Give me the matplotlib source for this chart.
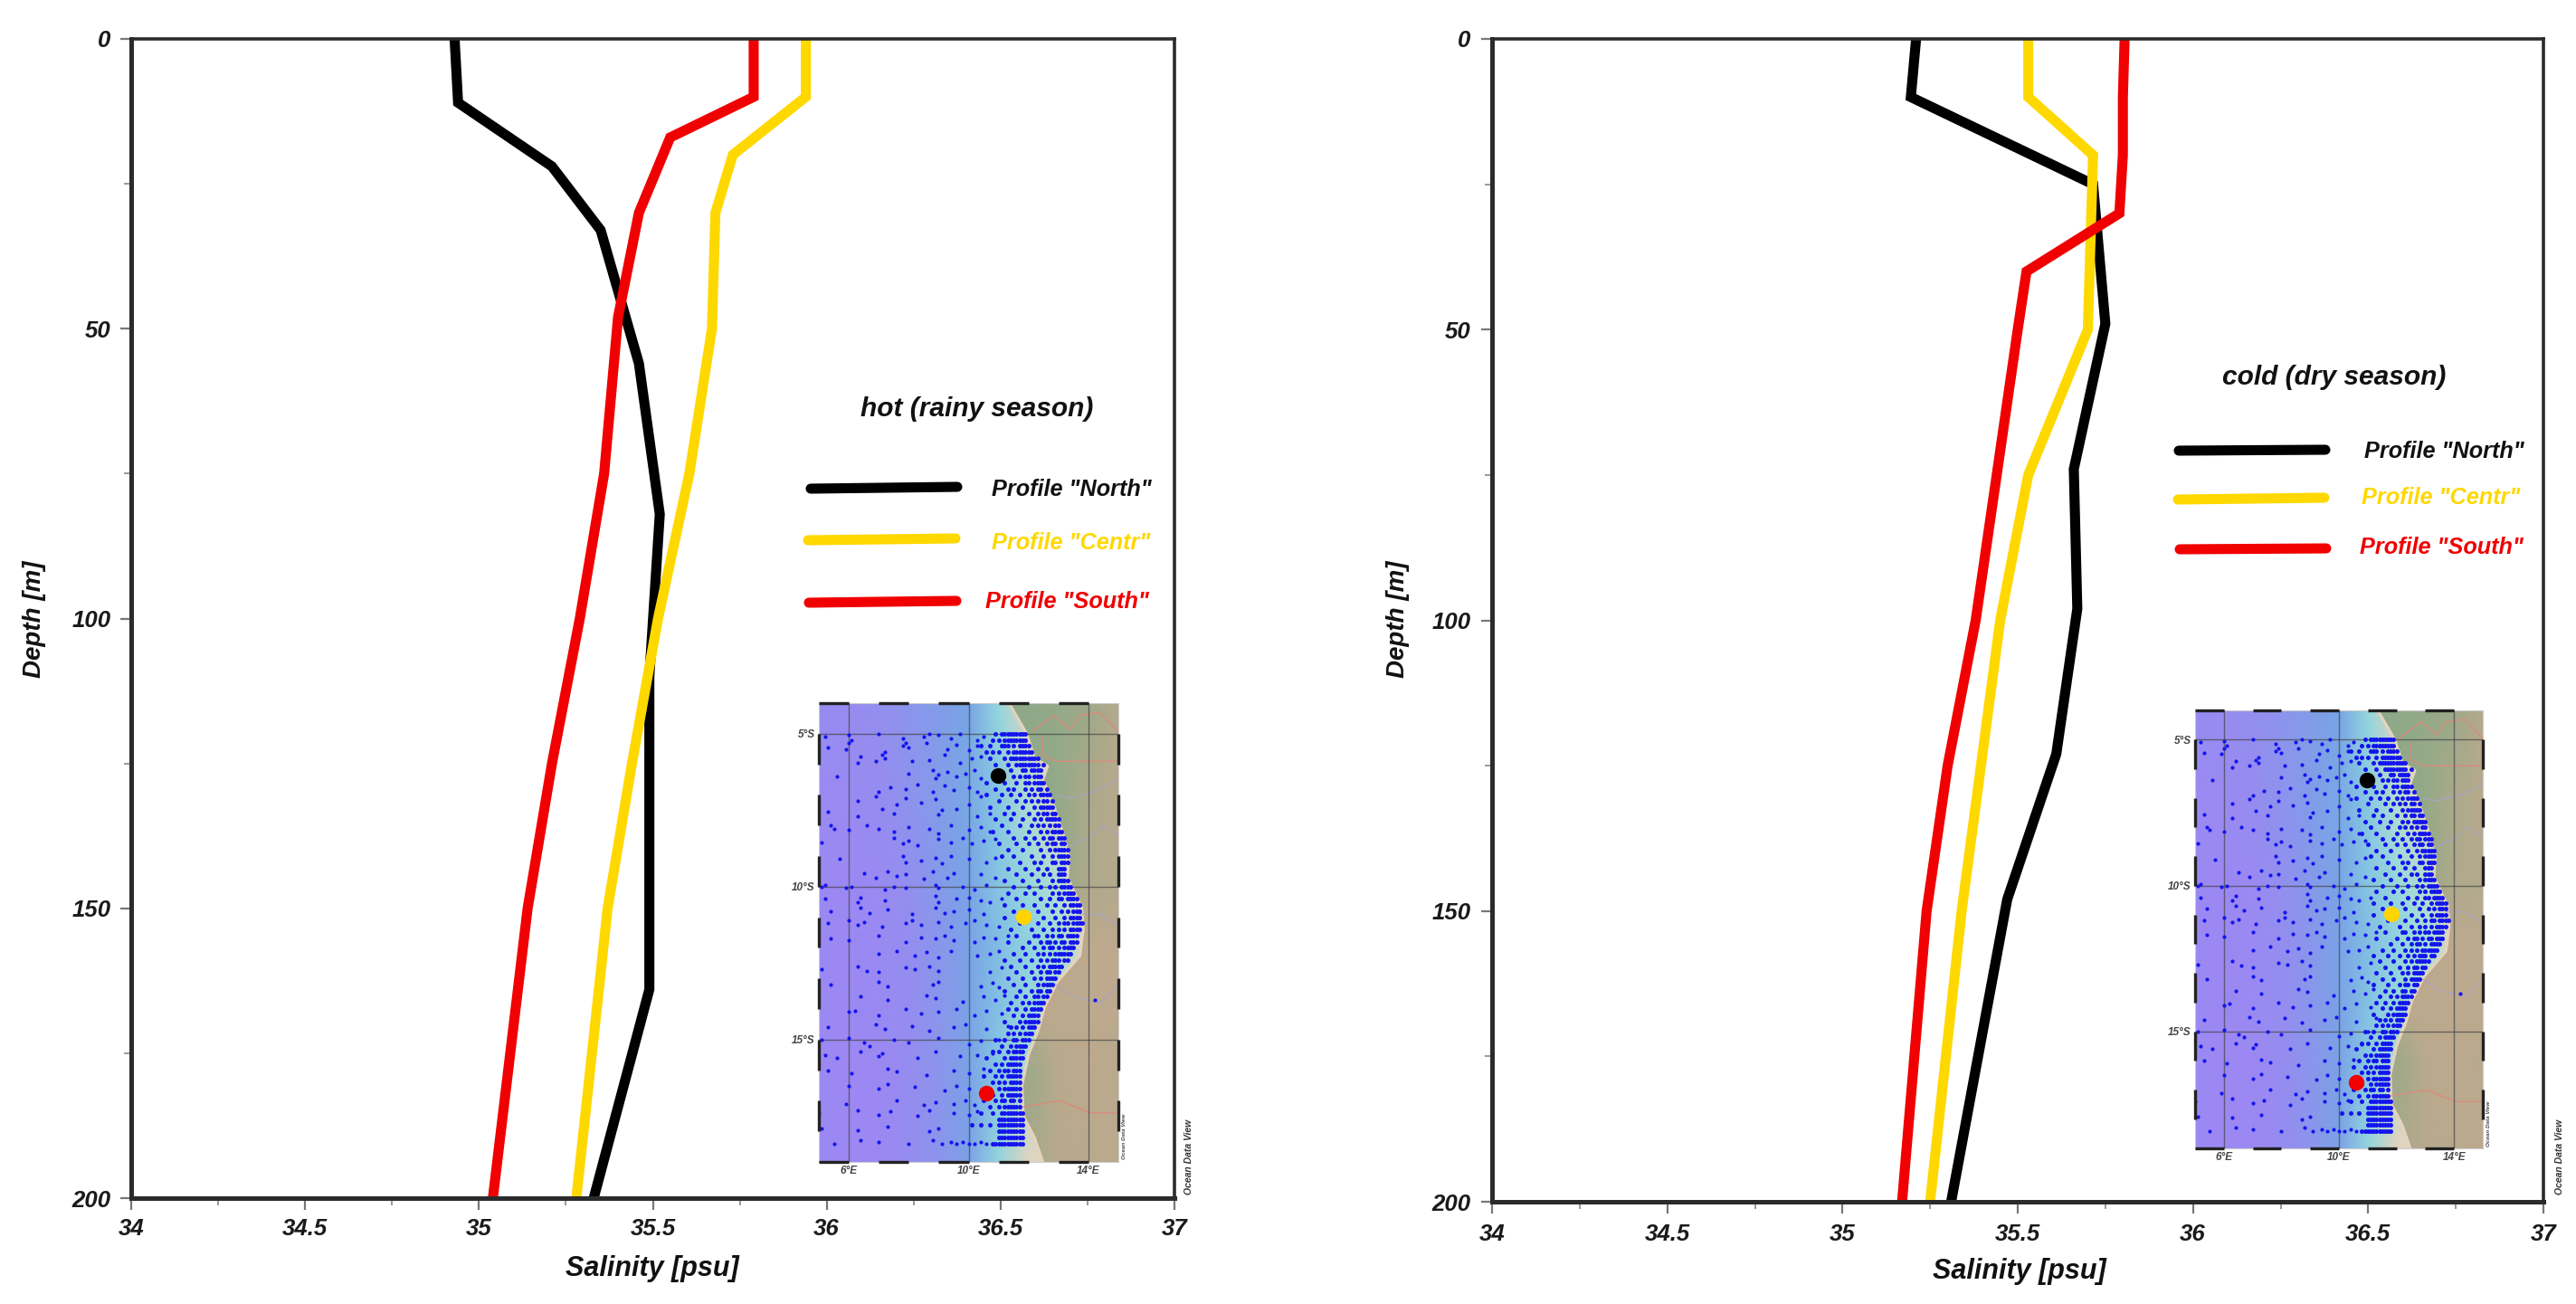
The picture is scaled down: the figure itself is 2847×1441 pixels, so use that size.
import numpy as np
import matplotlib
matplotlib.use("Agg")
import matplotlib.pyplot as plt
from matplotlib.colors import LinearSegmentedColormap
from matplotlib.lines import Line2D
from matplotlib.patches import Polygon

plt.rcParams['font.family'] = ['Liberation Sans', 'DejaVu Sans']
plt.rcParams['font.weight'] = 'bold'
plt.rcParams['font.style'] = 'italic'

W, H = 2847, 1441

# salinity profiles, hot season
hot_north_s = [34.93, 34.94, 35.21, 35.35, 35.46, 35.52, 35.49, 35.49, 35.33]
hot_north_d = [0, 11, 22, 33, 56, 82, 110, 164, 200]
hot_centr_s = [35.94, 35.94, 35.73, 35.68, 35.67, 35.605, 35.515, 35.44, 35.37, 35.28]
hot_centr_d = [0, 10, 20, 30, 50, 75, 100, 125, 150, 200]
hot_south_s = [35.79, 35.79, 35.55, 35.46, 35.40, 35.36, 35.29, 35.21, 35.14, 35.04]
hot_south_d = [0, 10, 17, 30, 48, 75, 100, 125, 150, 200]

# salinity profiles, cold season
cold_north_s = [35.21, 35.195, 35.715, 35.75, 35.66, 35.67, 35.61, 35.47, 35.31]
cold_north_d = [0, 10, 25, 49, 74, 98, 123, 148, 200]
cold_centr_s = [35.53, 35.53, 35.715, 35.70, 35.53, 35.45, 35.34, 35.25]
cold_centr_d = [0, 10, 20, 50, 75, 100, 150, 200]
cold_south_s = [35.805, 35.80, 35.80, 35.79, 35.525, 35.50, 35.38, 35.30, 35.24, 35.17]
cold_south_d = [0, 10, 20, 30, 40, 50, 100, 125, 150, 200]

sal_ticks = [34, 34.5, 35, 35.5, 36, 36.5, 37]
sal_labels = ['34', '34.5', '35', '35.5', '36', '36.5', '37']
depth_ticks = [0, 50, 100, 150, 200]

# map: coast, borders, rivers
coast_lon = [11.35, 11.94, 12.2, 12.64, 12.48, 12.86, 13.13, 13.35, 13.3, 13.78, 13.83, 13.72,
             12.97, 12.53, 12.32, 12.0, 11.78, 11.83, 12.2, 12.48]
coast_lat = [-4, -5, -5.8, -6.06, -6.5, -7.4, -8.2, -9, -9.7, -10.7, -11.4, -12.25,
             -13.1, -13.95, -14.7, -15.5, -16.5, -17.5, -18.2, -19]
border1_lon = [12.1, 12.86, 13.4, 13.7, 14.37, 15]
border1_lat = [-4.95, -4.4, -4.85, -4.4, -4.3, -4.95]
border2_lon = [12.48, 12.48, 12.9, 15]
border2_lat = [-5.1, -5.7, -5.9, -5.9]
border3_lon = [11.83, 13.07, 14.05, 15]
border3_lat = [-17.2, -17, -17.4, -17.4]
river1_lon = [12.9, 13.4, 14.2, 15]
river1_lat = [-7.0, -7.1, -6.9, -6.5]
river2_lon = [13.3, 14.0, 14.5, 15]
river2_lat = [-8.7, -8.4, -8.0, -8.3]
river3_lon = [13.7, 14.4, 15]
river3_lat = [-10.9, -10.9, -11.3]
river4_lon = [12.9, 13.5, 14.4, 15]
river4_lat = [-13.2, -13.6, -13.8, -13.2]

# sea and land shades on a coarse lon/lat grid (0 purple .. 1 pale shelf, 0 green .. 1 tan)
grid_lon = [5, 6, 7, 8, 9, 10, 11, 12, 13, 14, 15]
grid_lat = [-4, -7, -10, -12, -14, -16, -19]
sea_shade = [[.08, .06, .12, .20, .30, .40, .72, 1.0, 1.0, 1.0, 1.0],
             [.04, .04, .08, .18, .30, .42, .60, .85, 1.0, 1.0, 1.0],
             [.02, .02, .04, .12, .26, .40, .58, .72, .85, 1.0, 1.0],
             [.02, .02, .04, .10, .22, .38, .54, .68, .80, 1.0, 1.0],
             [.02, .02, .04, .10, .22, .38, .56, .72, .90, 1.0, 1.0],
             [.02, .02, .02, .08, .20, .38, .60, .85, 1.0, 1.0, 1.0],
             [.02, .02, .02, .08, .20, .36, .70, 1.0, 1.0, 1.0, 1.0]]
land_shade = [[0, 0, 0, 0, 0, 0, 0, 0, .1, .3, .8],
              [0, 0, 0, 0, 0, 0, 0, 0, .1, .6, .9],
              [0, 0, 0, 0, 0, 0, 0, 0, .1, .7, .8],
              [1, 1, 1, 1, 1, 1, 1, 1, .9, 1, 1],
              [1, 1, 1, 1, 1, 1, 1, 1, 1, 1, 1],
              [1, 1, 1, 1, 1, 1, 1, .3, .9, 1, .9],
              [1, 1, 1, 1, 1, 1, 1, .5, .9, .9, 1]]

lon_ticks = [6, 10, 14]
lat_ticks = [-5, -10, -15]

# open ocean stations
open_lon = [5.2, 6.0, 6.1, 7.0, 7.8, 7.9, 8.5, 8.7, 9.0, 9.4, 9.7, 10.3, 10.5,
            5.3, 5.9, 6.0, 7.2, 7.8, 8.0, 8.6, 9.3, 9.6, 10.0, 10.3,
            6.3, 6.4, 6.9, 7.1, 7.2, 8.1, 8.7, 9.2, 9.7, 10.1, 10.4,
            5.6, 8.0, 8.8, 8.9, 9.0, 9.3, 9.6, 9.9, 10.2, 10.4,
            7.0, 7.4, 7.9, 8.3, 8.8, 9.2, 9.5, 10.0, 10.3,
            6.3, 6.9, 7.6, 7.9, 8.4, 8.9, 10.0, 10.4,
            5.3, 6.3, 7.1, 7.5, 9.0, 9.1, 9.6, 10.3, 10.7,
            5.4, 5.5, 6.0, 6.6, 7.0, 7.5, 8.0, 8.7, 9.0, 9.4, 10.0, 10.4, 10.7,
            5.1, 7.5, 7.8, 8.0, 8.3, 9.0, 9.4, 9.8, 10.1, 10.5, 10.9,
            5.7, 7.8, 7.9, 8.4, 8.9, 9.1, 9.4, 10.0, 10.6, 10.9,
            6.5, 6.9, 7.3, 7.6, 7.9, 8.5, 8.8, 9.3, 9.5, 10.4, 10.9,
            5.1, 5.2, 5.9, 6.1, 7.2, 7.5, 7.9, 8.9, 9.0, 9.8, 10.2, 10.6,
            5.2, 6.3, 6.4, 7.2, 8.9, 9.0, 9.6, 10.0, 10.4, 10.7, 11.1,
            5.4, 6.4, 6.7, 7.3, 8.1, 8.9, 9.2, 9.5, 10.0, 10.5,
            5.3, 6.0, 6.3, 6.5, 7.1, 7.9, 8.1, 8.4, 9.0, 9.4, 9.9, 10.2, 10.6, 11.0,
            5.4, 6.0, 7.0, 7.9, 8.4, 8.9, 9.2, 9.5, 10.2, 10.5, 10.9, 11.3,
            7.0, 7.6, 8.2, 8.6, 9.0, 9.4, 10.3, 10.7, 11.0,
            5.1, 6.3, 6.6, 7.0, 7.9, 8.2, 8.7, 9.0, 10.7, 11.1,
            5.4, 7.0, 7.3, 8.8, 9.0, 10.4, 10.8, 11.0,
            6.4, 7.3, 8.6, 8.9, 9.8, 10.5, 10.9, 11.2,
            6.0, 6.2, 7.0, 7.9, 8.4, 9.0, 9.6, 10.2, 10.6, 11.1,
            5.3, 6.9, 7.2, 8.1, 8.7, 9.5, 9.9, 10.6, 11.3,
            5.1, 6.0, 6.5, 6.7, 7.5, 8.0, 9.0, 10.0, 10.4, 11.0,
            5.2, 5.6, 6.4, 7.0, 7.1, 8.3, 8.9, 9.7, 10.3, 10.8,
            5.3, 6.1, 7.3, 7.6, 8.6, 9.5, 10.0, 10.5,
            6.0, 7.0, 7.3, 8.2, 9.2, 9.6, 10.0,
            5.9, 7.6, 8.5, 8.9, 9.5, 9.9, 10.2,
            5.0, 6.3, 7.0, 7.4, 8.3, 8.7, 9.5, 10.0, 10.3,
            5.1, 6.3, 7.3, 8.7, 9.0,
            5.5, 6.4, 7.0, 8.0, 8.8, 9.1, 9.4, 9.6, 9.8, 10.0, 10.2, 10.4, 10.6, 14.2]
open_lat = [-5.1, -5.05, -5.2, -5.0, -5.15, -5.3, -5.1, -5.0, -5.05, -5.15, -5.0, -5.2, -5.1,
            -5.45, -5.5, -5.3, -5.6, -5.4, -5.45, -5.3, -5.5, -5.35, -5.55, -5.4,
            -5.95, -5.75, -5.9, -5.7, -5.8, -5.9, -5.85, -5.7, -5.95, -5.8, -5.75,
            -6.4, -6.3, -6.2, -6.45, -6.35, -6.25, -6.4, -6.3, -6.2, -6.45,
            -6.9, -6.75, -6.8, -6.65, -6.9, -6.7, -6.85, -6.75, -6.9,
            -7.2, -7.05, -7.3, -7.1, -7.25, -7.15, -7.3, -7.05,
            -7.55, -7.7, -7.45, -7.6, -7.65, -7.5, -7.45, -7.7, -7.6,
            -8.0, -8.1, -8.15, -8.0, -8.1, -8.2, -8.05, -8.1, -8.25, -8.0, -8.15, -8.05, -8.2,
            -8.55, -8.4, -8.6, -8.5, -8.65, -8.45, -8.55, -8.4, -8.6, -8.5, -8.45,
            -9.1, -9.0, -9.2, -9.15, -9.05, -9.25, -9.0, -9.1, -9.2, -9.05,
            -9.55, -9.7, -9.5, -9.65, -9.6, -9.75, -9.5, -9.7, -9.55, -9.6, -9.7,
            -10.0, -9.95, -10.05, -10.0, -10.1, -10.0, -10.05, -9.95, -10.05, -10.0, -10.1, -9.95,
            -10.4, -10.5, -10.35, -10.45, -10.3, -10.5, -10.4, -10.35, -10.45, -10.5, -10.4,
            -10.8, -10.7, -10.85, -10.75, -10.9, -10.7, -10.85, -10.8, -10.75, -10.9,
            -11.2, -11.1, -11.25, -11.15, -11.3, -11.2, -11.1, -11.25, -11.15, -11.3, -11.2, -11.1, -11.25, -11.3,
            -11.7, -11.75, -11.6, -11.8, -11.65, -11.7, -11.6, -11.75, -11.8, -11.65, -11.7, -11.6,
            -12.2, -12.1, -12.25, -12.15, -12.3, -12.1, -12.25, -12.2, -12.1,
            -12.7, -12.6, -12.75, -12.8, -12.65, -12.7, -12.6, -12.75, -12.8, -12.65,
            -13.2, -13.1, -13.25, -13.2, -13.1, -13.25, -13.15, -13.3,
            -13.6, -13.7, -13.55, -13.65, -13.75, -13.6, -13.7, -13.55,
            -14.1, -14.05, -14.2, -14.0, -14.15, -14.1, -14.0, -14.2, -14.05, -14.15,
            -14.6, -14.5, -14.65, -14.55, -14.7, -14.6, -14.5, -14.65, -14.55,
            -15.0, -14.95, -15.1, -15.2, -15.0, -15.1, -14.95, -15.15, -15.05, -15.0,
            -15.5, -15.6, -15.4, -15.55, -15.45, -15.6, -15.4, -15.55, -15.5, -15.45,
            -16.0, -16.1, -15.95, -16.05, -16.15, -16.0, -16.1, -15.95,
            -16.5, -16.6, -16.45, -16.55, -16.65, -16.5, -16.6,
            -17.1, -17.0, -17.15, -17.05, -17.1, -17.0, -17.15,
            -17.4, -17.3, -17.45, -17.35, -17.5, -17.3, -17.4, -17.45, -17.35,
            -17.9, -17.95, -17.85, -18.0, -17.9,
            -18.4, -18.3, -18.35, -18.4, -18.3, -18.4, -18.35, -18.4, -18.35, -18.4, -18.4, -18.35, -18.4, -13.7]

# dense shelf stations, one row of longitudes per latitude
shelf_lat = [-5.0, -5.2, -5.4, -5.6, -5.8, -6.0, -6.2, -6.4, -6.6, -6.8, -7.0, -7.2, -7.4, -7.6, -7.8,
             -8.0, -8.2, -8.4, -8.6, -8.8, -9.0, -9.2, -9.4, -9.6, -9.8, -10.0, -10.2, -10.4, -10.6,
             -10.8, -11.0, -11.2, -11.4, -11.6, -11.8, -12.0, -12.2, -12.4, -12.6, -12.8, -13.0,
             -13.2, -13.4, -13.6, -13.8, -14.0, -14.2, -14.4, -14.6, -14.8, -15.0, -15.2, -15.4,
             -15.6, -15.8, -16.0, -16.2, -16.4, -16.6, -16.8, -17.0, -17.2, -17.4, -17.6, -17.8,
             -18.0, -18.2, -18.4]
shelf_lons = [[10.9, 11.1, 11.2, 11.3, 11.4, 11.5, 11.6, 11.7, 11.8, 11.9],
              [10.8, 11.0, 11.2, 11.3, 11.4, 11.5, 11.6, 11.7, 11.8, 11.9],
              [10.4, 10.7, 11.1, 11.2, 11.3, 11.5, 11.7, 11.8, 11.9, 12.0],
              [10.6, 10.8, 11.0, 11.3, 11.5, 11.6, 11.7, 11.8, 11.9, 12.0, 12.1],
              [10.7, 11.2, 11.4, 11.5, 11.6, 11.7, 11.8, 11.9, 12.0, 12.1, 12.2, 12.3],
              [10.9, 11.3, 11.6, 11.7, 11.8, 11.9, 12.0, 12.1, 12.2, 12.3, 12.5],
              [11.4, 11.8, 11.9, 12.1, 12.2, 12.3, 12.4],
              [11.5, 11.7, 11.9, 12.0, 12.2, 12.3, 12.4],
              [10.6, 11.2, 11.6, 11.9, 12.0, 12.2, 12.3, 12.4, 12.5],
              [10.9, 11.3, 11.5, 11.9, 12.1, 12.3, 12.4, 12.6],
              [10.6, 11.1, 11.4, 11.7, 12.0, 12.2, 12.4, 12.5, 12.6, 12.7],
              [11.0, 11.6, 11.9, 12.1, 12.3, 12.5, 12.6, 12.8],
              [10.7, 11.3, 11.8, 12.2, 12.4, 12.5, 12.6, 12.7, 12.8],
              [11.2, 11.5, 12.0, 12.3, 12.5, 12.6, 12.8, 12.9],
              [10.9, 11.4, 11.8, 12.2, 12.4, 12.6, 12.7, 12.8, 12.9, 13.0],
              [11.1, 11.7, 12.1, 12.3, 12.5, 12.7, 12.9, 13.0],
              [10.8, 11.3, 12.0, 12.4, 12.6, 12.8, 12.9, 13.0, 13.1],
              [11.5, 11.9, 12.2, 12.5, 12.7, 12.8, 13.0, 13.1, 13.2],
              [11.0, 11.6, 12.0, 12.3, 12.6, 12.8, 12.9, 13.1, 13.2],
              [11.3, 11.8, 12.4, 12.7, 12.9, 13.0, 13.1, 13.2, 13.3],
              [11.1, 11.5, 12.1, 12.5, 12.8, 13.0, 13.1, 13.2, 13.3],
              [11.7, 12.2, 12.4, 12.8, 12.9, 13.1, 13.2, 13.3],
              [11.3, 11.9, 12.3, 12.6, 13.0, 13.1, 13.2],
              [11.6, 12.1, 12.5, 12.7, 13.0, 13.1, 13.2],
              [11.2, 11.8, 12.3, 12.8, 13.0, 13.1, 13.2, 13.3],
              [11.5, 12.0, 12.4, 12.7, 12.9, 13.1, 13.2, 13.3, 13.4],
              [11.3, 11.9, 12.2, 12.8, 13.0, 13.2, 13.3, 13.4, 13.5],
              [11.6, 12.4, 12.7, 13.0, 13.1, 13.3, 13.4, 13.5, 13.6],
              [11.2, 11.8, 12.2, 12.6, 12.9, 13.2, 13.4, 13.5, 13.6, 13.7],
              [11.5, 12.3, 12.8, 13.1, 13.3, 13.5, 13.6, 13.7],
              [11.2, 12.0, 12.5, 12.9, 13.2, 13.4, 13.5, 13.6, 13.7],
              [11.7, 12.3, 12.7, 13.0, 13.2, 13.3, 13.5, 13.6, 13.7, 13.8],
              [11.4, 12.1, 12.5, 12.8, 13.0, 13.2, 13.4, 13.5, 13.6, 13.7],
              [11.6, 12.2, 12.3, 12.6, 12.8, 13.0, 13.1, 13.3, 13.4, 13.5, 13.6],
              [11.3, 12.0, 12.4, 12.6, 12.7, 12.9, 13.1, 13.2, 13.4, 13.5, 13.6],
              [11.8, 12.2, 12.5, 12.7, 12.8, 13.0, 13.2, 13.3, 13.4, 13.5],
              [11.5, 11.9, 12.3, 12.5, 12.7, 12.9, 13.0, 13.1, 13.2, 13.3, 13.4],
              [11.2, 11.7, 12.1, 12.4, 12.6, 12.8, 12.9, 13.0, 13.2, 13.3],
              [11.4, 11.9, 12.3, 12.5, 12.7, 12.8, 12.9, 13.0, 13.1],
              [11.6, 12.1, 12.4, 12.6, 12.7, 12.9, 13.0],
              [11.3, 11.8, 12.2, 12.4, 12.6, 12.7, 12.8, 12.9],
              [11.5, 11.9, 12.3, 12.5, 12.6, 12.7, 12.8],
              [11.2, 11.7, 12.1, 12.3, 12.4, 12.6, 12.7],
              [11.6, 11.9, 12.2, 12.3, 12.5, 12.6],
              [11.4, 11.8, 12.0, 12.2, 12.3, 12.4, 12.5],
              [11.3, 11.6, 11.9, 12.1, 12.2, 12.3, 12.4],
              [11.5, 11.8, 12.0, 12.1, 12.2, 12.3],
              [11.2, 11.7, 11.9, 12.0, 12.1, 12.2, 12.3],
              [11.4, 11.6, 11.8, 12.0, 12.1, 12.2],
              [11.3, 11.5, 11.7, 11.9, 12.0, 12.1],
              [10.9, 11.2, 11.5, 11.6, 11.8, 11.9, 12.0],
              [11.1, 11.4, 11.6, 11.7, 11.8, 11.9],
              [10.8, 11.0, 11.3, 11.5, 11.6, 11.7, 11.8],
              [10.6, 11.2, 11.4, 11.5, 11.6, 11.7, 11.8],
              [10.9, 11.1, 11.3, 11.4, 11.5, 11.6, 11.7],
              [10.7, 11.0, 11.2, 11.3, 11.5, 11.6, 11.7],
              [10.5, 10.9, 11.1, 11.3, 11.4, 11.5, 11.6, 11.7],
              [10.8, 11.0, 11.2, 11.4, 11.5, 11.6, 11.7],
              [11.0, 11.2, 11.3, 11.4, 11.5, 11.6, 11.7],
              [10.8, 11.1, 11.3, 11.4, 11.5, 11.6, 11.7],
              [10.5, 10.9, 11.1, 11.2, 11.4, 11.5, 11.7],
              [10.7, 11.0, 11.2, 11.3, 11.4, 11.5, 11.6, 11.7],
              [10.4, 10.8, 11.1, 11.2, 11.3, 11.4, 11.5, 11.6, 11.7, 11.8],
              [11.0, 11.1, 11.2, 11.3, 11.4, 11.5, 11.6, 11.7, 11.8],
              [10.1, 10.4, 10.7, 11.0, 11.1, 11.2, 11.3, 11.4, 11.5, 11.6, 11.7, 11.8],
              [11.0, 11.1, 11.2, 11.3, 11.4, 11.5, 11.6, 11.7, 11.8],
              [11.0, 11.1, 11.2, 11.3, 11.4, 11.5, 11.6, 11.7, 11.8],
              [10.8, 10.9, 11.0, 11.1, 11.2, 11.3, 11.4, 11.5, 11.6, 11.7, 11.8]]

# the three profile sites
site_lon = [10.97, 11.82, 10.6]
site_lat = [-6.38, -10.98, -16.75]
site_col = ['black', '#ffd400', '#f00000']

BLACK, YELLOW, RED = 'black', '#ffd800', '#f00000'

sea_cmap = LinearSegmentedColormap.from_list('sea', ['#9d87f3', '#8c94ec', '#78a4e6', '#86c8e2', '#9fe0d8', '#e0d4c0'])
land_cmap = LinearSegmentedColormap.from_list('land', ['#8fa988', '#bda98d'])


def px_axes(fig, left, right, top, bottom):
    return fig.add_axes([left / W, 1 - bottom / H, (right - left) / W, (bottom - top) / H])


def draw_profile(ax, profiles, pad):
    for s, d, col in profiles:
        ax.plot(s, d, color=col, lw=8, solid_joinstyle='miter', solid_capstyle='butt')
    ax.set_xlim(34, 37)
    ax.set_ylim(200, 0)
    ax.set_xticks(sal_ticks)
    ax.set_xticklabels(sal_labels)
    ax.set_yticks(depth_ticks)
    ax.set_xticks([34.25, 34.75, 35.25, 35.75, 36.25, 36.75], minor=True)
    ax.set_yticks([25, 75, 125, 175], minor=True)
    ax.tick_params(which='major', length=9, width=1.6, color='#777777', labelsize=18.5, pad=pad, labelcolor='#1a1a1a')
    ax.tick_params(which='minor', length=6, width=1.4, color='#999999')
    for side in ['left', 'bottom']:
        ax.spines[side].set_linewidth(3.6)
    for side in ['top', 'right']:
        ax.spines[side].set_linewidth(2.6)
    for sp in ax.spines.values():
        sp.set_color('#2b2b2b')
        sp.set_zorder(5)


def draw_map(fig, left, right, top, bottom):
    m = px_axes(fig, left, right, top, bottom)
    extent = [grid_lon[0], grid_lon[-1], grid_lat[-1], grid_lat[0]]
    # grid latitudes are not evenly spaced, so use pcolormesh for the shading
    m.pcolormesh(grid_lon, grid_lat, sea_shade, cmap=sea_cmap, vmin=0, vmax=1, shading='gouraud', zorder=1)
    outline = list(zip(coast_lon, coast_lat)) + [(15, -19), (15, -4)]
    land = Polygon(outline, closed=True, facecolor='none', edgecolor='none')
    m.add_patch(land)
    lm = m.pcolormesh(grid_lon, grid_lat, land_shade, cmap=land_cmap, vmin=0, vmax=1, shading='gouraud', zorder=2)
    lm.set_clip_path(land)
    m.plot(coast_lon, coast_lat, color='#e6d3bd', lw=2.2, zorder=2.5)
    for blon, blat in [(river1_lon, river1_lat), (river2_lon, river2_lat), (river3_lon, river3_lat), (river4_lon, river4_lat)]:
        m.plot(blon, blat, color='#a9a3c4', lw=0.8, zorder=3)
    for blon, blat in [(border1_lon, border1_lat), (border2_lon, border2_lat), (border3_lon, border3_lat)]:
        m.plot(blon, blat, color='#d98c7c', lw=1, zorder=3)
    for lon in lon_ticks:
        m.axvline(lon, color='#444444', lw=1, alpha=0.7, zorder=3)
    for lat in lat_ticks:
        m.axhline(lat, color='#444444', lw=1, alpha=0.7, zorder=3)
    m.plot(open_lon, open_lat, ls='none', marker='o', ms=3, mew=0, color='#1414ee', zorder=4)
    for lat, lons in zip(shelf_lat, shelf_lons):
        m.plot(lons, [lat] * len(lons), ls='none', marker='o', ms=3.6, mew=0, color='#1414ee', zorder=4)
    for lon, lat, col in zip(site_lon, site_lat, site_col):
        m.plot(lon, lat, ls='none', marker='o', ms=12.5, mew=0, color=col, zorder=6)
    m.set_xlim(extent[0], extent[1])
    m.set_ylim(extent[2], extent[3])
    # zebra frame
    for lon in range(5, 15, 2):
        m.plot([lon, lon + 1], [-4, -4], color='#222222', lw=2.4, clip_on=False, solid_capstyle='butt', zorder=7)
        m.plot([lon, lon + 1], [-19, -19], color='#222222', lw=2.4, clip_on=False, solid_capstyle='butt', zorder=7)
    for lat in range(-5, -19, -2):
        m.plot([5, 5], [lat, lat - 1], color='#222222', lw=2.4, clip_on=False, solid_capstyle='butt', zorder=7)
        m.plot([15, 15], [lat, lat - 1], color='#222222', lw=2.4, clip_on=False, solid_capstyle='butt', zorder=7)
    for sp in m.spines.values():
        sp.set_color('#cccccc')
        sp.set_linewidth(0.8)
    m.set_xticks(lon_ticks)
    m.set_xticklabels(['6°E', '10°E', '14°E'])
    m.set_yticks(lat_ticks)
    m.set_yticklabels(['5°S', '10°S', '15°S'])
    m.tick_params(length=0, labelsize=8.5, pad=3, labelcolor='#444444')
    m.text(1.012, 0.005, 'Ocean Data View', transform=m.transAxes, rotation=90, fontsize=4.5,
           color='#444444', ha='left', va='bottom')
    return m


def fig_text(fig, x, y, s, **kw):
    fig.text(x / W, 1 - y / H, s, **kw)


def fig_line(fig, x0, y0, x1, y1, col):
    fig.add_artist(Line2D([x0 / W, x1 / W], [1 - y0 / H, 1 - y1 / H], color=col, lw=8,
                          solid_capstyle='round'))


fig = plt.figure(figsize=(W / 100, H / 100), dpi=100, facecolor='white')

ax1 = px_axes(fig, 145, 1298, 43, 1324)
draw_profile(ax1, [(hot_north_s, hot_north_d, BLACK), (hot_centr_s, hot_centr_d, YELLOW), (hot_south_s, hot_south_d, RED)], 7)
ax2 = px_axes(fig, 1649, 2811, 43, 1328)
draw_profile(ax2, [(cold_north_s, cold_north_d, BLACK), (cold_centr_s, cold_centr_d, YELLOW), (cold_south_s, cold_south_d, RED)], 8)

draw_map(fig, 905, 1236, 777, 1284)
draw_map(fig, 2426, 2744, 785, 1269)

fig_text(fig, 38, 684, 'Depth [m]', fontsize=20, rotation=90, ha='center', va='center', color='#111111')
fig_text(fig, 1545, 684, 'Depth [m]', fontsize=20, rotation=90, ha='center', va='center', color='#111111')
fig_text(fig, 721, 1402, 'Salinity [psu]', fontsize=22, ha='center', va='center', color='#111111')
fig_text(fig, 2232, 1405, 'Salinity [psu]', fontsize=22, ha='center', va='center', color='#111111')

fig_text(fig, 1080, 452, 'hot (rainy season)', fontsize=21.5, ha='center', va='center', color='#111111')
fig_text(fig, 2580, 417, 'cold (dry season)', fontsize=21.5, ha='center', va='center', color='#111111')

fig_line(fig, 896, 540, 1058, 538, BLACK)
fig_line(fig, 893, 597, 1056, 595, YELLOW)
fig_line(fig, 894, 666, 1057, 664, RED)
fig_text(fig, 1096, 541, 'Profile "North"', fontsize=18.2, va='center', color='#111111')
fig_text(fig, 1096, 600, 'Profile "Centr"', fontsize=18.2, va='center', color=YELLOW)
fig_text(fig, 1089, 665, 'Profile "South"', fontsize=18.2, va='center', color=RED)

fig_line(fig, 2408, 498, 2570, 497, BLACK)
fig_line(fig, 2407, 552, 2569, 550, YELLOW)
fig_line(fig, 2409, 607, 2571, 606, RED)
fig_text(fig, 2613, 499, 'Profile "North"', fontsize=18.2, va='center', color='#111111')
fig_text(fig, 2610, 550, 'Profile "Centr"', fontsize=18.2, va='center', color=YELLOW)
fig_text(fig, 2608, 605, 'Profile "South"', fontsize=18.2, va='center', color=RED)

fig_text(fig, 1314, 1320, 'Ocean Data View', fontsize=7.5, rotation=90, ha='center', va='bottom', color='#333333')
fig_text(fig, 2829, 1320, 'Ocean Data View', fontsize=7.5, rotation=90, ha='center', va='bottom', color='#333333')

fig.savefig('out.png', dpi=100)
